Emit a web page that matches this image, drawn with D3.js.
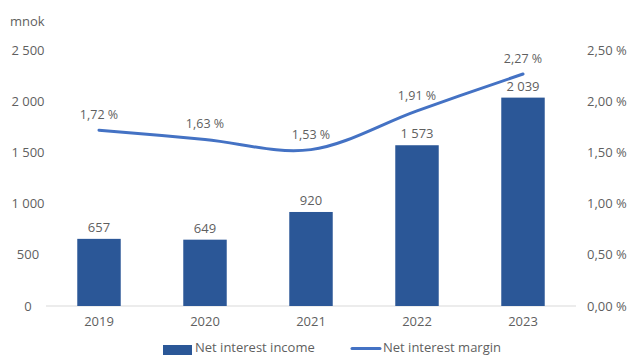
<!DOCTYPE html>
<html>
<head>
<meta charset="utf-8">
<script src="https://cdn.jsdelivr.net/npm/d3@7"></script>
<style>
  html, body { margin: 0; padding: 0; background: #fff; }
  svg text { font-family: "Open Sans", sans-serif; fill: #5f5f5f; }
</style>
</head>
<body>
<svg id="chart" width="629" height="355"></svg>
<script>
// Net interest income (mnok) and net interest margin (%)
const years = ["2019", "2020", "2021", "2022", "2023"];
const income = [657, 649, 920, 1573, 2039];
const margin = [1.72, 1.63, 1.53, 1.91, 2.27];
const leftTicks = [0, 500, 1000, 1500, 2000, 2500];
const rightTicks = [0, 0.5, 1.0, 1.5, 2.0, 2.5];

const svg = d3.select("#chart");
const plot = { left: 46, right: 576, top: 50.5, bottom: 306 };

const x = d3.scaleBand().domain(years).range([plot.left, plot.right]).paddingInner(0.59).paddingOuter(0.295);
const yL = d3.scaleLinear().domain([0, 2500]).range([plot.bottom, plot.top]);
const yR = d3.scaleLinear().domain([0, 2.5]).range([plot.bottom, plot.top]);

const fmtInt = v => d3.format(",")(v).replace(/,/g, "\u00a0");
const fmtPct = v => v.toFixed(2).replace(".", ",") + " %";

// unit label
svg.append("text").attr("x", 10).attr("y", 26).attr("font-size", 13).text("mnok");

// left axis labels
svg.append("g").selectAll("text").data(leftTicks).join("text")
  .attr("x", 28).attr("y", d => yL(d) + 4.5)
  .attr("text-anchor", "middle").attr("font-size", 13)
  .text(fmtInt);

// right axis labels
svg.append("g").selectAll("text").data(rightTicks).join("text")
  .attr("x", 587).attr("y", d => yR(d) + 4.5)
  .attr("font-size", 13)
  .text(fmtPct);

// baseline
svg.append("line")
  .attr("x1", plot.left).attr("x2", plot.right)
  .attr("y1", yL(0)).attr("y2", yL(0))
  .attr("stroke", "#d9d9d9").attr("stroke-width", 1);

// bars
svg.append("g").selectAll("rect").data(years).join("rect")
  .attr("x", d => x(d)).attr("width", x.bandwidth())
  .attr("y", (d, i) => yL(income[i]))
  .attr("height", (d, i) => yL(0) - yL(income[i]))
  .attr("fill", "#2b5797");

// bar value labels
svg.append("g").selectAll("text").data(years).join("text")
  .attr("x", d => x(d) + x.bandwidth() / 2)
  .attr("y", (d, i) => yL(income[i]) - 7)
  .attr("text-anchor", "middle").attr("font-size", 13)
  .text((d, i) => fmtInt(income[i]));

// x axis labels
svg.append("g").selectAll("text").data(years).join("text")
  .attr("x", d => x(d) + x.bandwidth() / 2)
  .attr("y", 326)
  .attr("text-anchor", "middle").attr("font-size", 13)
  .text(d => d);

// margin line
const line = d3.line()
  .x((d, i) => x(years[i]) + x.bandwidth() / 2)
  .y(d => yR(d))
  .curve(d3.curveCardinal.tension(0));
svg.append("path").datum(margin)
  .attr("d", line)
  .attr("fill", "none").attr("stroke", "#4472c4").attr("stroke-width", 3)
  .attr("stroke-linecap", "round");

// margin labels
svg.append("g").selectAll("text").data(margin).join("text")
  .attr("x", (d, i) => x(years[i]) + x.bandwidth() / 2)
  .attr("y", d => yR(d) - 11)
  .attr("text-anchor", "middle").attr("font-size", 12.5)
  .text(fmtPct);

// legend
const lg = svg.append("g");
lg.append("rect").attr("x", 163).attr("y", 345).attr("width", 29).attr("height", 10).attr("fill", "#2b5797");
lg.append("text").attr("x", 195).attr("y", 351.5).attr("font-size", 13).text("Net interest income");
lg.append("line").attr("x1", 352).attr("x2", 380).attr("y1", 348.5).attr("y2", 348.5)
  .attr("stroke", "#4472c4").attr("stroke-width", 3).attr("stroke-linecap", "round");
lg.append("text").attr("x", 383).attr("y", 351.5).attr("font-size", 13).text("Net interest margin");
</script>
</body>
</html>
